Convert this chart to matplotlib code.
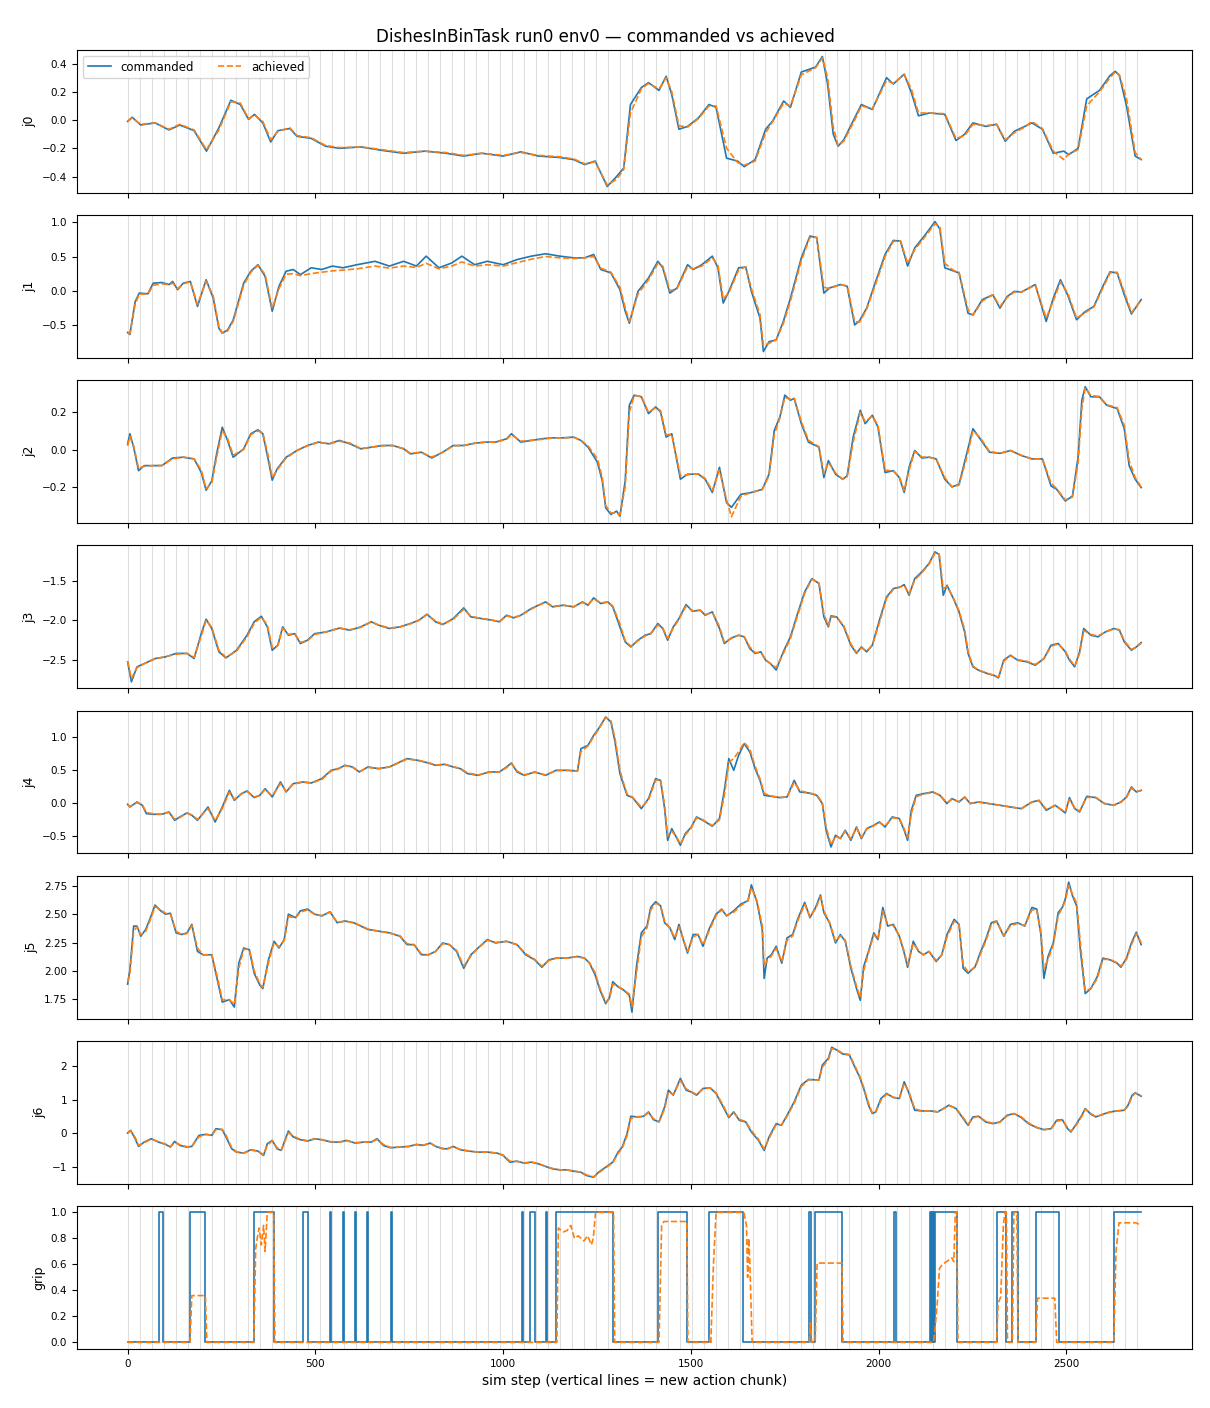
import numpy as np
import matplotlib
matplotlib.use("Agg")
import matplotlib.pyplot as plt

# --- values ---
n_steps = 2700
chunk_size = 32

j0_steps = [0, 12, 35, 73, 110, 139, 177, 210, 243, 275,
            300, 322, 338, 360, 381, 400, 432, 451, 489, 527,
            564, 621, 678, 735, 791, 848, 895, 943, 1000, 1047,
            1094, 1151, 1188, 1217, 1245, 1277, 1302, 1321, 1339, 1368,
            1387, 1415, 1434, 1449, 1468, 1491, 1520, 1548, 1567, 1595,
            1624, 1642, 1671, 1699, 1718, 1747, 1765, 1794, 1832, 1850,
            1864, 1879, 1892, 1907, 1936, 1954, 1983, 2021, 2039, 2068,
            2087, 2106, 2135, 2176, 2206, 2229, 2251, 2285, 2314, 2337,
            2361, 2389, 2408, 2436, 2465, 2493, 2506, 2531, 2554, 2588,
            2616, 2630, 2641, 2660, 2683, 2699]
j0_cmd = [-0.01, 0.02, -0.035, -0.02, -0.07, -0.035, -0.075, -0.22, -0.055, 0.14,
          0.11, 0.005, 0.04, -0.02, -0.155, -0.075, -0.06, -0.115, -0.13, -0.185,
          -0.2, -0.19, -0.215, -0.235, -0.22, -0.235, -0.255, -0.235, -0.255, -0.225,
          -0.255, -0.265, -0.28, -0.315, -0.29, -0.47, -0.4, -0.34, 0.11, 0.23,
          0.265, 0.21, 0.31, 0.18, -0.065, -0.045, 0.015, 0.11, 0.09, -0.27,
          -0.29, -0.33, -0.28, -0.065, -0.005, 0.135, 0.09, 0.34, 0.375, 0.45,
          0.255, -0.1, -0.185, -0.14, 0.015, 0.11, 0.075, 0.3, 0.255, 0.325,
          0.195, 0.03, 0.05, 0.04, -0.145, -0.1, -0.02, -0.045, -0.03, -0.15,
          -0.08, -0.045, -0.02, -0.065, -0.235, -0.22, -0.245, -0.2, 0.15, 0.21,
          0.315, 0.345, 0.315, 0.1, -0.255, -0.28]
j0_ach = [-0.01, 0.015, -0.03, -0.02, -0.065, -0.03, -0.07, -0.21, -0.07, 0.13,
          0.12, 0.01, 0.035, -0.01, -0.14, -0.08, -0.055, -0.11, -0.125, -0.18,
          -0.195, -0.19, -0.21, -0.23, -0.22, -0.23, -0.25, -0.235, -0.25, -0.23,
          -0.25, -0.26, -0.275, -0.31, -0.295, -0.46, -0.42, -0.35, 0.05, 0.22,
          0.26, 0.22, 0.3, 0.2, -0.04, -0.05, 0.01, 0.1, 0.1, -0.2,
          -0.3, -0.32, -0.29, -0.09, -0.01, 0.12, 0.1, 0.32, 0.37, 0.44,
          0.3, -0.05, -0.18, -0.15, 0.0, 0.1, 0.08, 0.28, 0.26, 0.32,
          0.22, 0.05, 0.05, 0.045, -0.13, -0.11, -0.03, -0.04, -0.03, -0.14,
          -0.09, -0.05, -0.01, -0.06, -0.22, -0.28, -0.24, -0.21, 0.1, 0.2,
          0.3, 0.34, 0.32, 0.15, -0.23, -0.28]

j1_steps = [0, 6, 20, 31, 54, 68, 91, 110, 120, 133,
            148, 167, 186, 209, 228, 243, 252, 266, 281, 309,
            328, 347, 366, 385, 403, 422, 441, 460, 489, 517,
            545, 573, 611, 659, 697, 735, 769, 795, 829, 863,
            890, 924, 958, 1000, 1037, 1075, 1113, 1151, 1188, 1217,
            1241, 1260, 1287, 1311, 1325, 1336, 1359, 1387, 1412, 1425,
            1444, 1463, 1491, 1506, 1529, 1557, 1572, 1586, 1601, 1627,
            1646, 1661, 1684, 1693, 1708, 1727, 1746, 1765, 1794, 1817,
            1835, 1854, 1869, 1898, 1916, 1936, 1949, 1968, 1992, 2017,
            2039, 2058, 2077, 2096, 2125, 2150, 2163, 2176, 2201, 2214,
            2238, 2251, 2276, 2304, 2323, 2342, 2361, 2380, 2417, 2446,
            2465, 2484, 2503, 2527, 2550, 2573, 2597, 2616, 2635, 2654,
            2673, 2699]
j1_cmd = [-0.61, -0.64, -0.16, -0.035, -0.045, 0.11, 0.12, 0.09, 0.135, 0.015,
          0.11, 0.135, -0.23, 0.16, -0.11, -0.55, -0.62, -0.575, -0.43, 0.11,
          0.285, 0.38, 0.21, -0.3, 0.065, 0.285, 0.31, 0.235, 0.335, 0.31,
          0.36, 0.335, 0.38, 0.43, 0.36, 0.43, 0.36, 0.505, 0.335, 0.405,
          0.505, 0.38, 0.43, 0.38, 0.455, 0.505, 0.54, 0.505, 0.48, 0.48,
          0.53, 0.31, 0.26, 0.015, -0.3, -0.475, -0.01, 0.185, 0.43, 0.335,
          -0.035, 0.04, 0.38, 0.31, 0.38, 0.505, 0.335, -0.18, -0.01, 0.335,
          0.345, -0.01, -0.4, -0.89, -0.745, -0.72, -0.45, -0.11, 0.48, 0.8,
          0.775, -0.035, 0.04, 0.09, 0.065, -0.5, -0.44, -0.255, 0.135, 0.53,
          0.735, 0.725, 0.36, 0.625, 0.825, 1.01, 0.9, 0.335, 0.285, 0.26,
          -0.33, -0.355, -0.13, -0.06, -0.255, -0.085, -0.01, -0.02, 0.09, -0.45,
          -0.11, 0.16, -0.06, -0.425, -0.305, -0.23, 0.065, 0.275, 0.26, -0.06,
          -0.34, -0.13]
j1_ach = [-0.62, -0.63, -0.2, -0.05, -0.05, 0.08, 0.1, 0.09, 0.11, 0.03,
          0.1, 0.13, -0.2, 0.14, -0.08, -0.52, -0.62, -0.59, -0.45, 0.08,
          0.27, 0.37, 0.24, -0.26, 0.03, 0.24, 0.25, 0.22, 0.25, 0.27,
          0.29, 0.3, 0.32, 0.36, 0.33, 0.36, 0.34, 0.4, 0.32, 0.36,
          0.42, 0.36, 0.38, 0.36, 0.41, 0.46, 0.5, 0.48, 0.47, 0.48,
          0.5, 0.33, 0.27, 0.05, -0.25, -0.45, -0.05, 0.16, 0.4, 0.36,
          0.0, 0.03, 0.35, 0.32, 0.36, 0.48, 0.37, -0.12, -0.03, 0.3,
          0.35, 0.03, -0.35, -0.8, -0.77, -0.72, -0.48, -0.15, 0.44, 0.78,
          0.78, 0.05, 0.03, 0.09, 0.07, -0.45, -0.46, -0.27, 0.1, 0.5,
          0.72, 0.73, 0.4, 0.6, 0.8, 0.98, 0.93, 0.4, 0.29, 0.27,
          -0.28, -0.36, -0.15, -0.06, -0.23, -0.1, -0.02, -0.02, 0.08, -0.4,
          -0.15, 0.13, -0.03, -0.4, -0.32, -0.24, 0.04, 0.26, 0.27, -0.02,
          -0.32, -0.14]

j2_steps = [0, 6, 16, 29, 44, 73, 91, 120, 148, 177,
            196, 209, 224, 237, 252, 266, 281, 309, 328, 347,
            360, 375, 385, 398, 422, 451, 479, 508, 536, 564,
            592, 621, 649, 678, 706, 735, 753, 782, 810, 839,
            867, 895, 924, 952, 980, 1009, 1022, 1047, 1075, 1103,
            1132, 1160, 1188, 1207, 1226, 1251, 1264, 1273, 1287, 1302,
            1311, 1325, 1336, 1349, 1368, 1387, 1406, 1419, 1434, 1449,
            1472, 1491, 1520, 1538, 1557, 1576, 1595, 1608, 1633, 1661,
            1690, 1708, 1722, 1737, 1750, 1765, 1775, 1794, 1813, 1841,
            1854, 1866, 1885, 1904, 1916, 1932, 1951, 1964, 1983, 1998,
            2017, 2039, 2055, 2068, 2081, 2096, 2115, 2134, 2153, 2176,
            2195, 2214, 2232, 2251, 2270, 2295, 2323, 2351, 2380, 2408,
            2436, 2459, 2474, 2497, 2516, 2531, 2541, 2550, 2565, 2588,
            2607, 2635, 2654, 2667, 2683, 2699]
j2_cmd = [0.03, 0.085, 0.013, -0.113, -0.086, -0.086, -0.086, -0.045, -0.041, -0.05,
          -0.122, -0.218, -0.168, -0.023, 0.12, 0.049, -0.041, 0.004, 0.085, 0.106,
          0.085, -0.06, -0.164, -0.104, -0.041, -0.005, 0.022, 0.04, 0.031, 0.049,
          0.031, 0.004, 0.013, 0.022, 0.022, 0.004, -0.023, -0.014, -0.045, -0.014,
          0.022, 0.022, 0.034, 0.04, 0.04, 0.058, 0.085, 0.04, 0.049, 0.058,
          0.063, 0.063, 0.067, 0.049, 0.013, -0.068, -0.168, -0.312, -0.348, -0.33,
          -0.357, -0.168, 0.238, 0.292, 0.283, 0.193, 0.229, 0.202, 0.067, 0.085,
          -0.159, -0.132, -0.132, -0.159, -0.23, -0.095, -0.285, -0.31, -0.24, -0.23,
          -0.213, -0.132, 0.103, 0.175, 0.292, 0.265, 0.274, 0.139, 0.04, 0.013,
          -0.15, -0.059, -0.132, -0.159, -0.141, 0.067, 0.211, 0.139, 0.184, 0.121,
          -0.123, -0.113, -0.15, -0.23, -0.095, -0.005, -0.045, -0.041, -0.05, -0.159,
          -0.2, -0.186, -0.041, 0.112, 0.058, -0.014, -0.02, -0.005, -0.032, -0.05,
          -0.05, -0.195, -0.213, -0.276, -0.249, -0.041, 0.265, 0.337, 0.283, 0.283,
          0.238, 0.22, 0.112, -0.086, -0.159, -0.204]
j2_ach = [0.02, 0.07, 0.02, -0.1, -0.09, -0.085, -0.085, -0.05, -0.04, -0.05,
          -0.11, -0.21, -0.18, -0.04, 0.1, 0.06, -0.03, 0.0, 0.08, 0.1,
          0.09, -0.04, -0.15, -0.11, -0.045, -0.005, 0.02, 0.04, 0.03, 0.045,
          0.035, 0.005, 0.013, 0.02, 0.022, 0.005, -0.02, -0.015, -0.04, -0.015,
          0.02, 0.022, 0.034, 0.04, 0.04, 0.055, 0.08, 0.045, 0.05, 0.055,
          0.063, 0.063, 0.065, 0.05, 0.02, -0.05, -0.15, -0.3, -0.34, -0.34,
          -0.35, -0.2, 0.2, 0.29, 0.285, 0.2, 0.225, 0.21, 0.08, 0.08,
          -0.14, -0.135, -0.13, -0.155, -0.22, -0.11, -0.27, -0.36, -0.25, -0.23,
          -0.215, -0.14, 0.08, 0.17, 0.28, 0.27, 0.275, 0.15, 0.05, 0.015,
          -0.13, -0.07, -0.125, -0.16, -0.145, 0.04, 0.2, 0.15, 0.18, 0.13,
          -0.11, -0.115, -0.145, -0.22, -0.11, -0.01, -0.04, -0.04, -0.05, -0.15,
          -0.2, -0.19, -0.06, 0.1, 0.065, -0.01, -0.02, -0.005, -0.03, -0.05,
          -0.05, -0.18, -0.21, -0.27, -0.255, -0.07, 0.22, 0.33, 0.29, 0.285,
          0.24, 0.225, 0.13, -0.06, -0.15, -0.2]

j3_steps = [0, 10, 25, 44, 73, 101, 129, 158, 177, 196,
            209, 224, 243, 262, 290, 318, 337, 356, 372, 385,
            400, 413, 428, 445, 460, 479, 498, 527, 564, 592,
            621, 649, 668, 697, 725, 753, 776, 797, 820, 839,
            867, 895, 914, 943, 971, 990, 1009, 1028, 1047, 1075,
            1094, 1113, 1132, 1160, 1188, 1211, 1226, 1241, 1260, 1279,
            1292, 1311, 1325, 1340, 1359, 1378, 1393, 1412, 1425, 1438,
            1453, 1468, 1487, 1504, 1525, 1538, 1557, 1576, 1589, 1608,
            1627, 1642, 1657, 1671, 1686, 1699, 1712, 1727, 1746, 1765,
            1784, 1803, 1822, 1841, 1854, 1866, 1873, 1888, 1907, 1926,
            1941, 1954, 1968, 1983, 2002, 2021, 2039, 2058, 2068, 2081,
            2096, 2115, 2134, 2150, 2161, 2172, 2182, 2201, 2214, 2229,
            2238, 2251, 2266, 2289, 2308, 2319, 2333, 2351, 2370, 2395,
            2417, 2440, 2459, 2478, 2497, 2508, 2522, 2535, 2546, 2565,
            2584, 2603, 2626, 2641, 2654, 2673, 2686, 2699]
j3_cmd = [-2.527, -2.78, -2.59, -2.55, -2.485, -2.464, -2.42, -2.42, -2.485, -2.17,
          -1.987, -2.105, -2.4, -2.477, -2.38, -2.19, -2.02, -1.95, -2.084, -2.38,
          -2.316, -2.084, -2.19, -2.17, -2.295, -2.253, -2.17, -2.15, -2.1, -2.126,
          -2.084, -2.02, -2.063, -2.105, -2.084, -2.042, -2.0, -1.924, -2.02, -2.055,
          -1.98, -1.844, -1.958, -1.98, -2.0, -2.02, -1.937, -1.97, -1.937, -1.852,
          -1.81, -1.768, -1.831, -1.81, -1.831, -1.768, -1.81, -1.717, -1.789, -1.768,
          -1.831, -2.084, -2.274, -2.338, -2.253, -2.19, -2.17, -2.042, -2.105, -2.253,
          -2.084, -1.98, -1.802, -1.886, -1.873, -1.937, -1.895, -2.105, -2.295, -2.224,
          -2.19, -2.21, -2.36, -2.42, -2.4, -2.506, -2.55, -2.63, -2.4, -2.21,
          -1.916, -1.64, -1.473, -1.536, -1.958, -2.084, -1.945, -1.958, -2.084, -2.316,
          -2.42, -2.338, -2.4, -2.316, -2.0, -1.705, -1.6, -1.578, -1.55, -1.684,
          -1.473, -1.388, -1.283, -1.135, -1.169, -1.684, -1.557, -1.747, -1.895, -2.15,
          -2.42, -2.59, -2.633, -2.675, -2.7, -2.73, -2.506, -2.443, -2.506, -2.527,
          -2.57, -2.485, -2.316, -2.295, -2.4, -2.506, -2.59, -2.4, -2.105, -2.19,
          -2.21, -2.15, -2.105, -2.126, -2.274, -2.38, -2.338, -2.283]
j3_ach = [-2.52, -2.74, -2.6, -2.55, -2.49, -2.46, -2.43, -2.42, -2.47, -2.2,
          -2.0, -2.09, -2.38, -2.47, -2.39, -2.21, -2.04, -1.96, -2.06, -2.35,
          -2.32, -2.1, -2.18, -2.17, -2.28, -2.26, -2.18, -2.15, -2.1, -2.12,
          -2.09, -2.02, -2.06, -2.1, -2.085, -2.045, -2.0, -1.93, -2.01, -2.05,
          -1.99, -1.86, -1.95, -1.98, -2.0, -2.02, -1.945, -1.965, -1.94, -1.86,
          -1.81, -1.775, -1.825, -1.81, -1.83, -1.775, -1.8, -1.73, -1.78, -1.77,
          -1.82, -2.05, -2.26, -2.33, -2.26, -2.2, -2.17, -2.06, -2.1, -2.23,
          -2.1, -1.99, -1.82, -1.88, -1.875, -1.93, -1.9, -2.08, -2.28, -2.23,
          -2.19, -2.21, -2.34, -2.41, -2.41, -2.5, -2.55, -2.6, -2.42, -2.23,
          -1.94, -1.66, -1.48, -1.53, -1.92, -2.07, -1.96, -1.96, -2.07, -2.3,
          -2.41, -2.35, -2.39, -2.32, -2.03, -1.72, -1.61, -1.58, -1.56, -1.67,
          -1.49, -1.4, -1.29, -1.15, -1.16, -1.6, -1.57, -1.74, -1.88, -2.12,
          -2.4, -2.58, -2.63, -2.67, -2.7, -2.72, -2.52, -2.45, -2.5, -2.52,
          -2.56, -2.49, -2.33, -2.3, -2.39, -2.49, -2.58, -2.42, -2.13, -2.18,
          -2.2, -2.15, -2.11, -2.12, -2.26, -2.37, -2.34, -2.29]

j4_steps = [0, 6, 25, 39, 50, 69, 91, 110, 125, 139,
            158, 171, 186, 214, 233, 252, 271, 284, 303, 318,
            337, 352, 366, 385, 407, 422, 441, 466, 489, 517,
            542, 561, 579, 598, 617, 640, 668, 697, 725, 744,
            772, 801, 820, 844, 867, 886, 905, 933, 962, 990,
            1009, 1022, 1037, 1056, 1084, 1113, 1141, 1169, 1198, 1207,
            1226, 1241, 1254, 1273, 1287, 1298, 1311, 1321, 1330, 1345,
            1368, 1387, 1406, 1419, 1430, 1438, 1449, 1463, 1472, 1485,
            1500, 1515, 1532, 1557, 1576, 1589, 1601, 1614, 1627, 1642,
            1657, 1671, 1684, 1695, 1714, 1737, 1756, 1775, 1790, 1813,
            1835, 1850, 1860, 1873, 1885, 1898, 1911, 1926, 1941, 1954,
            1968, 1987, 2002, 2017, 2036, 2055, 2068, 2077, 2087, 2100,
            2119, 2144, 2163, 2182, 2195, 2214, 2229, 2244, 2266, 2295,
            2323, 2351, 2380, 2408, 2427, 2446, 2470, 2497, 2508, 2522,
            2535, 2554, 2578, 2601, 2626, 2645, 2660, 2673, 2686, 2699]
j4_cmd = [-0.015, -0.056, 0.02, -0.03, -0.157, -0.167, -0.167, -0.131, -0.258, -0.207,
          -0.146, -0.182, -0.258, -0.056, -0.283, -0.056, 0.197, 0.045, 0.146, 0.187,
          0.086, 0.121, 0.222, 0.096, 0.323, 0.172, 0.298, 0.323, 0.308, 0.374,
          0.5, 0.525, 0.576, 0.551, 0.475, 0.551, 0.525, 0.551, 0.626, 0.677,
          0.652, 0.611, 0.576, 0.591, 0.551, 0.525, 0.45, 0.424, 0.475, 0.475,
          0.551, 0.611, 0.475, 0.424, 0.475, 0.424, 0.5, 0.5, 0.49, 0.828,
          0.879, 1.03, 1.131, 1.308, 1.232, 0.929, 0.45, 0.273, 0.121, 0.086,
          -0.081, 0.071, 0.374, 0.348, -0.081, -0.561, -0.384, -0.535, -0.636, -0.46,
          -0.369, -0.207, -0.258, -0.348, -0.232, 0.197, 0.677, 0.5, 0.727, 0.904,
          0.778, 0.525, 0.348, 0.121, 0.106, 0.086, 0.096, 0.348, 0.172, 0.157,
          0.121, -0.005, -0.409, -0.662, -0.485, -0.535, -0.409, -0.561, -0.359, -0.535,
          -0.384, -0.333, -0.283, -0.359, -0.207, -0.232, -0.409, -0.561, -0.106, 0.121,
          0.146, 0.172, 0.121, -0.005, 0.071, 0.02, 0.096, -0.005, 0.02, -0.005,
          -0.03, -0.056, -0.081, 0.02, 0.045, -0.106, -0.03, -0.146, 0.086, -0.081,
          -0.131, 0.106, 0.086, -0.005, -0.03, 0.02, 0.096, 0.247, 0.172, 0.197]
j4_ach = [-0.02, -0.05, 0.01, -0.02, -0.14, -0.16, -0.165, -0.135, -0.24, -0.215,
          -0.15, -0.175, -0.245, -0.08, -0.26, -0.08, 0.17, 0.06, 0.14, 0.18,
          0.095, 0.12, 0.21, 0.11, 0.3, 0.18, 0.29, 0.32, 0.31, 0.36,
          0.49, 0.52, 0.57, 0.555, 0.48, 0.545, 0.525, 0.55, 0.62, 0.67,
          0.655, 0.615, 0.58, 0.59, 0.555, 0.53, 0.46, 0.43, 0.47, 0.475,
          0.54, 0.6, 0.49, 0.43, 0.47, 0.43, 0.495, 0.5, 0.49, 0.78,
          0.87, 1.01, 1.12, 1.3, 1.25, 0.98, 0.5, 0.3, 0.14, 0.09,
          -0.06, 0.05, 0.35, 0.36, -0.03, -0.5, -0.42, -0.52, -0.62, -0.48,
          -0.38, -0.22, -0.25, -0.34, -0.25, 0.12, 0.62, 0.68, 0.78, 0.92,
          0.82, 0.56, 0.37, 0.15, 0.11, 0.09, 0.095, 0.32, 0.19, 0.16,
          0.13, 0.01, -0.36, -0.63, -0.5, -0.53, -0.42, -0.54, -0.37, -0.52,
          -0.39, -0.34, -0.29, -0.35, -0.22, -0.23, -0.39, -0.52, -0.15, 0.1,
          0.14, 0.165, 0.125, 0.01, 0.06, 0.025, 0.09, 0.0, 0.02, -0.005,
          -0.03, -0.055, -0.08, 0.015, 0.04, -0.09, -0.035, -0.13, 0.06, -0.07,
          -0.12, 0.09, 0.09, 0.0, -0.03, 0.015, 0.09, 0.23, 0.18, 0.19]

j5_steps = [0, 6, 16, 25, 35, 48, 59, 73, 88, 101,
            114, 129, 144, 158, 171, 186, 201, 224, 237, 252,
            271, 284, 296, 309, 324, 337, 352, 360, 375, 390,
            403, 417, 428, 447, 460, 479, 498, 517, 539, 558,
            579, 602, 621, 640, 668, 697, 725, 744, 763, 782,
            801, 820, 839, 857, 876, 895, 914, 933, 958, 980,
            1009, 1037, 1060, 1084, 1103, 1122, 1141, 1169, 1198, 1217,
            1230, 1245, 1258, 1273, 1283, 1292, 1306, 1321, 1336, 1343,
            1355, 1368, 1383, 1393, 1406, 1419, 1430, 1444, 1457, 1468,
            1481, 1491, 1506, 1519, 1532, 1548, 1567, 1582, 1595, 1614,
            1633, 1652, 1661, 1676, 1690, 1695, 1703, 1714, 1727, 1742,
            1756, 1771, 1784, 1803, 1817, 1832, 1845, 1854, 1869, 1885,
            1898, 1911, 1926, 1941, 1951, 1960, 1973, 1987, 1998, 2011,
            2024, 2039, 2055, 2068, 2077, 2092, 2106, 2119, 2134, 2153,
            2168, 2182, 2201, 2214, 2225, 2238, 2257, 2270, 2285, 2300,
            2314, 2333, 2351, 2370, 2389, 2408, 2421, 2432, 2440, 2451,
            2465, 2478, 2489, 2497, 2506, 2516, 2527, 2537, 2550, 2565,
            2582, 2597, 2616, 2635, 2645, 2660, 2673, 2686, 2699]
j5_cmd = [1.88, 2.006, 2.396, 2.396, 2.306, 2.366, 2.456, 2.583, 2.532, 2.502,
          2.51, 2.336, 2.321, 2.336, 2.411, 2.171, 2.141, 2.141, 1.946, 1.72,
          1.742, 1.676, 2.066, 2.201, 2.186, 1.976, 1.871, 1.84, 2.096, 2.261,
          2.201, 2.276, 2.502, 2.471, 2.532, 2.547, 2.502, 2.486, 2.523, 2.426,
          2.441, 2.426, 2.396, 2.366, 2.351, 2.336, 2.306, 2.231, 2.231, 2.141,
          2.141, 2.171, 2.246, 2.231, 2.171, 2.021, 2.141, 2.201, 2.276, 2.246,
          2.261, 2.231, 2.141, 2.096, 2.03, 2.096, 2.111, 2.111, 2.126, 2.111,
          2.066, 1.961, 1.826, 1.706, 1.76, 1.901, 1.856, 1.826, 1.781, 1.631,
          2.036, 2.336, 2.396, 2.562, 2.613, 2.577, 2.426, 2.381, 2.276, 2.411,
          2.261, 2.156, 2.321, 2.321, 2.216, 2.366, 2.502, 2.547, 2.486, 2.532,
          2.592, 2.622, 2.763, 2.607, 2.366, 1.931, 2.111, 2.141, 2.216, 2.066,
          2.291, 2.321, 2.456, 2.607, 2.471, 2.562, 2.673, 2.516, 2.426, 2.246,
          2.321, 2.261, 2.021, 1.84, 1.736, 2.036, 2.171, 2.336, 2.276, 2.562,
          2.396, 2.411, 2.306, 2.156, 2.03, 2.261, 2.171, 2.141, 2.171, 2.081,
          2.141, 2.321, 2.456, 2.411, 2.021, 1.976, 2.036, 2.156, 2.276, 2.426,
          2.441, 2.306, 2.411, 2.426, 2.396, 2.562, 2.547, 2.321, 1.931, 2.126,
          2.246, 2.516, 2.562, 2.637, 2.787, 2.667, 2.577, 2.186, 1.796, 1.84,
          1.946, 2.111, 2.096, 2.066, 2.03, 2.111, 2.246, 2.342, 2.231]
j5_ach = [1.9, 1.97, 2.35, 2.39, 2.32, 2.35, 2.44, 2.57, 2.54, 2.51,
          2.5, 2.35, 2.32, 2.33, 2.4, 2.2, 2.14, 2.14, 1.97, 1.74,
          1.74, 1.7, 2.02, 2.19, 2.19, 2.0, 1.88, 1.85, 2.07, 2.25,
          2.21, 2.27, 2.48, 2.47, 2.52, 2.54, 2.5, 2.49, 2.52, 2.43,
          2.44, 2.425, 2.4, 2.37, 2.35, 2.335, 2.31, 2.24, 2.23, 2.15,
          2.14, 2.17, 2.24, 2.23, 2.18, 2.04, 2.13, 2.2, 2.27, 2.25,
          2.26, 2.23, 2.15, 2.1, 2.04, 2.09, 2.11, 2.11, 2.125, 2.11,
          2.07, 1.98, 1.84, 1.72, 1.75, 1.88, 1.86, 1.83, 1.79, 1.68,
          1.98, 2.3, 2.38, 2.54, 2.6, 2.58, 2.44, 2.38, 2.29, 2.39,
          2.27, 2.17, 2.3, 2.32, 2.23, 2.35, 2.49, 2.54, 2.49, 2.52,
          2.58, 2.62, 2.74, 2.62, 2.4, 2.04, 2.09, 2.13, 2.2, 2.08,
          2.27, 2.31, 2.44, 2.59, 2.48, 2.55, 2.66, 2.53, 2.43, 2.26,
          2.31, 2.27, 2.04, 1.86, 1.76, 2.0, 2.16, 2.32, 2.28, 2.53,
          2.41, 2.4, 2.31, 2.17, 2.05, 2.24, 2.18, 2.14, 2.17, 2.09,
          2.14, 2.3, 2.44, 2.41, 2.05, 1.99, 2.03, 2.14, 2.26, 2.41,
          2.44, 2.31, 2.4, 2.42, 2.4, 2.54, 2.54, 2.34, 2.02, 2.1,
          2.23, 2.49, 2.56, 2.62, 2.76, 2.68, 2.6, 2.25, 1.82, 1.84,
          1.93, 2.1, 2.1, 2.07, 2.04, 2.1, 2.23, 2.33, 2.25]

j6_steps = [0, 8, 20, 29, 44, 63, 82, 101, 114, 125,
            139, 158, 171, 190, 209, 224, 235, 252, 262, 277,
            290, 309, 328, 347, 362, 372, 385, 398, 409, 428,
            441, 460, 479, 498, 517, 542, 564, 583, 606, 630,
            649, 664, 681, 700, 725, 749, 769, 787, 806, 820,
            839, 852, 867, 886, 908, 933, 958, 984, 1000, 1018,
            1037, 1056, 1075, 1094, 1113, 1132, 1151, 1169, 1188, 1207,
            1222, 1241, 1254, 1273, 1292, 1306, 1317, 1330, 1340, 1359,
            1374, 1387, 1400, 1415, 1430, 1440, 1453, 1472, 1487, 1500,
            1515, 1532, 1551, 1567, 1586, 1601, 1614, 1629, 1646, 1661,
            1680, 1695, 1708, 1727, 1741, 1756, 1775, 1794, 1813, 1841,
            1850, 1866, 1875, 1888, 1904, 1922, 1936, 1949, 1960, 1973,
            1983, 1992, 2006, 2021, 2039, 2055, 2068, 2081, 2096, 2115,
            2138, 2157, 2172, 2187, 2206, 2225, 2238, 2251, 2266, 2285,
            2304, 2323, 2342, 2361, 2380, 2399, 2421, 2440, 2459, 2474,
            2489, 2503, 2512, 2527, 2541, 2550, 2565, 2578, 2597, 2616,
            2635, 2654, 2664, 2675, 2683, 2699]
j6_cmd = [0.01, 0.09, -0.16, -0.39, -0.26, -0.16, -0.26, -0.33, -0.41, -0.24,
          -0.36, -0.41, -0.39, -0.06, -0.03, -0.06, 0.14, 0.11, -0.11, -0.46,
          -0.56, -0.59, -0.49, -0.53, -0.66, -0.31, -0.21, -0.46, -0.51, 0.07,
          -0.11, -0.19, -0.23, -0.16, -0.19, -0.26, -0.26, -0.21, -0.29, -0.26,
          -0.26, -0.16, -0.36, -0.43, -0.41, -0.39, -0.33, -0.36, -0.29, -0.39,
          -0.46, -0.46, -0.39, -0.49, -0.53, -0.56, -0.56, -0.59, -0.66, -0.86,
          -0.83, -0.89, -0.86, -0.91, -0.99, -1.06, -1.09, -1.09, -1.13, -1.16,
          -1.26, -1.31, -1.16, -1.01, -0.86, -0.56, -0.41, -0.01, 0.51, 0.49,
          0.51, 0.64, 0.41, 0.34, 0.79, 1.29, 1.14, 1.64, 1.29, 1.24,
          1.14, 1.34, 1.36, 1.19, 0.79, 0.47, 0.64, 0.39, 0.34, 0.04,
          -0.21, -0.51, -0.11, 0.29, 0.24, 0.54, 0.94, 1.44, 1.61, 1.59,
          2.04, 2.24, 2.57, 2.49, 2.37, 2.34, 1.99, 1.69, 1.34, 0.84,
          0.59, 0.64, 1.04, 1.19, 1.07, 1.04, 1.54, 1.19, 0.69, 0.67,
          0.67, 0.64, 0.74, 0.84, 0.74, 0.44, 0.24, 0.49, 0.51, 0.34,
          0.29, 0.34, 0.54, 0.59, 0.47, 0.29, 0.17, 0.11, 0.14, 0.39,
          0.41, 0.14, 0.04, 0.29, 0.54, 0.74, 0.57, 0.49, 0.57, 0.64,
          0.67, 0.69, 0.84, 1.14, 1.21, 1.11]
j6_ach = [0.02, 0.07, -0.12, -0.36, -0.28, -0.17, -0.25, -0.32, -0.4, -0.27,
          -0.34, -0.4, -0.39, -0.1, -0.03, -0.06, 0.11, 0.12, -0.06, -0.42,
          -0.55, -0.59, -0.5, -0.53, -0.64, -0.36, -0.22, -0.43, -0.5, 0.02,
          -0.08, -0.18, -0.22, -0.17, -0.19, -0.25, -0.26, -0.22, -0.28, -0.26,
          -0.26, -0.18, -0.33, -0.42, -0.41, -0.39, -0.34, -0.35, -0.3, -0.38,
          -0.45, -0.46, -0.4, -0.48, -0.52, -0.56, -0.56, -0.59, -0.65, -0.83,
          -0.84, -0.88, -0.86, -0.9, -0.98, -1.05, -1.09, -1.09, -1.12, -1.16,
          -1.24, -1.3, -1.18, -1.03, -0.88, -0.6, -0.44, -0.07, 0.44, 0.5,
          0.5, 0.62, 0.44, 0.35, 0.73, 1.24, 1.16, 1.58, 1.33, 1.25,
          1.16, 1.32, 1.36, 1.21, 0.83, 0.5, 0.61, 0.42, 0.35, 0.08,
          -0.18, -0.47, -0.15, 0.26, 0.25, 0.51, 0.9, 1.4, 1.6, 1.59,
          1.98, 2.2, 2.53, 2.5, 2.39, 2.35, 2.03, 1.72, 1.38, 0.89,
          0.61, 0.63, 0.99, 1.17, 1.08, 1.04, 1.49, 1.23, 0.73, 0.67,
          0.67, 0.64, 0.73, 0.83, 0.75, 0.47, 0.27, 0.46, 0.51, 0.36,
          0.3, 0.33, 0.52, 0.59, 0.49, 0.31, 0.18, 0.11, 0.13, 0.36,
          0.4, 0.17, 0.06, 0.26, 0.51, 0.72, 0.59, 0.5, 0.56, 0.63,
          0.67, 0.69, 0.81, 1.1, 1.2, 1.12]

# gripper: commanded is open/closed, given as the step ranges where it is 1
grip_on_start = [83, 166, 336, 466, 539, 573, 606, 637, 702, 1050, 1071, 1113, 1142,
                 1412, 1548, 1815, 1831, 2042, 2136, 2141, 2145, 2149, 2314, 2356,
                 2418, 2626]
grip_on_end = [95, 207, 389, 479, 542, 576, 609, 640, 705, 1053, 1085, 1116, 1293,
               1489, 1640, 1819, 1902, 2045, 2138, 2143, 2147, 2208, 2338, 2371,
               2481, 2699]
grip_ach_steps = [0, 166, 171, 207, 211, 336, 341, 345, 350, 356, 362, 366, 372, 389, 392,
                  1143, 1147, 1160, 1170, 1180, 1190, 1200, 1215, 1225, 1235, 1240, 1246, 1294, 1297,
                  1415, 1422, 1428, 1440, 1489, 1492,
                  1549, 1551, 1553, 1560, 1567, 1641, 1648, 1651, 1654, 1657, 1660, 1663,
                  1815, 1818, 1822, 1831, 1836, 1902, 1905,
                  2146, 2150, 2156, 2162, 2170, 2180, 2195, 2200, 2204, 2208, 2211,
                  2314, 2318, 2325, 2332, 2336, 2340, 2343,
                  2356, 2360, 2368, 2371,
                  2418, 2423, 2469, 2474,
                  2626, 2632, 2640, 2685, 2699]
grip_ach_vals = [0, 0, 0.36, 0.36, 0, 0, 0.72, 0.8, 0.88, 0.75, 0.9, 0.7, 1.0, 1.0, 0,
                 0, 0.88, 0.85, 0.86, 0.9, 0.8, 0.82, 0.78, 0.82, 0.75, 0.8, 1.0, 1.0, 0,
                 0, 0.9, 0.93, 0.93, 0.93, 0,
                 0, 0.04, 0, 0.6, 1.0, 1.0, 0.9, 0.5, 0.8, 0.6, 0.3, 0,
                 0, 0.15, 0, 0, 0.61, 0.61, 0,
                 0, 0.1, 0.3, 0.57, 0.6, 0.62, 0.65, 0.62, 1.0, 1.0, 0,
                 0, 0.3, 0.35, 0.9, 1.0, 1.0, 0,
                 0, 1.0, 1.0, 0,
                 0, 0.34, 0.34, 0,
                 0, 0.7, 0.92, 0.92, 0.9]

joint_names = ['j0', 'j1', 'j2', 'j3', 'j4', 'j5', 'j6']
joint_steps = [j0_steps, j1_steps, j2_steps, j3_steps, j4_steps, j5_steps, j6_steps]
joint_cmd = [j0_cmd, j1_cmd, j2_cmd, j3_cmd, j4_cmd, j5_cmd, j6_cmd]
joint_ach = [j0_ach, j1_ach, j2_ach, j3_ach, j4_ach, j5_ach, j6_ach]

# build the commanded gripper square wave from its on-ranges
grip_x = [0]
grip_y = [0]
for a, b in zip(grip_on_start, grip_on_end):
    grip_x += [a, a, b, b]
    grip_y += [0, 1, 1, 0 if b < n_steps - 1 else 1]
if grip_x[-1] < n_steps - 1:
    grip_x.append(n_steps - 1)
    grip_y.append(0)

chunk_starts = np.arange(0, n_steps, chunk_size)

# --- figure ---
fig, axes = plt.subplots(8, 1, figsize=(12.1, 14.08), dpi=100, sharex=True)
fig.subplots_adjust(left=0.0636, right=0.985, top=0.9645, bottom=0.042, hspace=0.155)
fig.suptitle('DishesInBinTask run0 env0 \u2014 commanded vs achieved', fontsize=12, y=0.980)

for i, ax in enumerate(axes):
    for c in chunk_starts:
        ax.axvline(c, color='gray', alpha=0.25, linewidth=0.8, zorder=0)
    if i < 7:
        ax.plot(joint_steps[i], joint_cmd[i], color='#1f77b4', linewidth=1.2, label='commanded')
        ax.plot(joint_steps[i], joint_ach[i], color='#ff7f0e', linewidth=1.2, linestyle='--', label='achieved')
        ax.set_ylabel(joint_names[i], fontsize=9)
    else:
        ax.plot(grip_x, grip_y, color='#1f77b4', linewidth=1.2, label='commanded')
        ax.plot(grip_ach_steps, grip_ach_vals, color='#ff7f0e', linewidth=1.2, linestyle='--', label='achieved')
        ax.set_ylabel('grip', fontsize=9)
        ax.set_yticks([0.0, 0.2, 0.4, 0.6, 0.8, 1.0])
    ax.tick_params(axis='both', labelsize=7.5)

axes[0].legend(loc='upper left', ncol=2, fontsize=8.5)
axes[-1].set_xticks([0, 500, 1000, 1500, 2000, 2500])
axes[-1].set_xlabel('sim step (vertical lines = new action chunk)', fontsize=10)

plt.savefig('out.png', dpi=100)
